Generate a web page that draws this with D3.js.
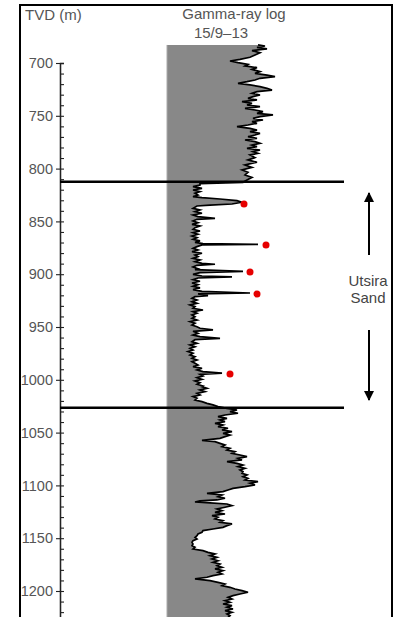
<!DOCTYPE html>
<html>
<head>
  <meta charset="utf-8">
  <script src="https://d3js.org/d3.v7.min.js"></script>
  <style>
    body { margin: 0; background: #fff; }
    text { font-family: "Liberation Sans", Arial, sans-serif; }
  </style>
</head>
<body>
<script>
  var depthM = [
    682.9, 683.9, 685.2, 686.7, 688.3, 690.2, 692.4, 694.6, 696.5, 698.1, 699.7, 701.3, 702.8, 704.4, 706.0, 708.2,
    709.8, 711.4, 712.9, 714.5, 716.1, 717.7, 719.3, 720.8, 722.4, 724.0, 725.6, 727.1, 728.7, 730.3, 731.9, 733.5,
    735.0, 736.6, 738.2, 739.8, 741.3, 742.9, 744.5, 746.1, 747.7, 749.2, 750.8, 752.4, 754.0, 755.6, 757.1, 758.7,
    760.3, 761.9, 763.5, 765.0, 766.6, 768.2, 769.8, 771.3, 772.9, 774.5, 776.1, 777.7, 779.2, 780.8, 782.4, 784.0,
    785.6, 787.1, 789.6, 791.8, 794.0, 796.6, 798.8, 801.3, 803.5, 806.0, 808.3, 810.8, 813.0,
    814.3, 815.5, 817.1, 818.7, 820.3, 821.8, 823.4, 825.0, 826.6, 827.5, 828.8, 830.4, 831.9, 833.5, 834.5, 835.4,
    837.6, 839.2, 840.8, 842.3, 843.9, 845.5, 847.1, 848.0, 849.6, 851.2, 852.8, 854.3, 855.9, 857.5, 859.1, 860.7,
    862.2, 863.8, 865.4, 867.0, 868.5, 869.8, 871.1, 871.7, 872.3, 873.9, 875.5, 877.1, 878.7, 880.2, 881.8, 883.4,
    885.0, 886.5, 888.1, 889.7, 890.6, 891.6, 893.2, 894.8, 895.7,
    897.3, 898.5, 900.1, 901.7, 902.6, 903.6, 905.2, 906.7, 908.3, 909.9, 911.5, 913.0, 914.6, 916.2, 917.8, 918.7,
    920.3, 921.3, 922.8, 924.4, 926.0, 927.6, 929.1, 930.7, 932.3, 933.9, 935.5, 937.0, 938.6, 940.2, 941.8, 943.4,
    944.9, 946.5, 948.1, 949.7, 951.2, 952.8, 954.1, 956.0, 957.6, 959.1, 960.7, 962.0, 963.9, 965.5, 967.0, 968.6,
    970.2, 971.8, 973.3, 974.9, 976.5, 978.1, 979.7, 981.2, 982.8, 984.4, 986.0, 987.6, 989.1, 990.7, 992.3, 993.6,
    994.8, 996.4, 998.0, 999.6, 1001.1, 1002.7, 1004.3, 1005.9,
    1006.5, 1008.1, 1009.6, 1011.2, 1012.8, 1014.4, 1015.9, 1017.5, 1019.1, 1020.7, 1022.3, 1023.8, 1025.4, 1027.0,
    1028.6, 1030.2, 1031.7, 1033.3, 1034.9, 1036.5, 1038.0, 1039.6, 1041.2, 1042.8, 1044.4, 1045.9, 1047.5, 1049.1,
    1050.7, 1052.3, 1053.8, 1055.4, 1057.3, 1058.6, 1060.2, 1061.7, 1063.3, 1064.9, 1066.5, 1068.0, 1069.6, 1071.2,
    1072.8, 1074.4, 1075.9, 1077.5, 1079.1, 1080.7, 1082.2, 1083.8, 1085.4, 1087.0, 1088.6, 1090.1, 1091.7, 1093.3,
    1094.9, 1096.5, 1098.0, 1099.6, 1101.2, 1102.8, 1104.3, 1105.9, 1107.5, 1109.1, 1110.7, 1112.2, 1113.8,
    1114.7, 1115.7, 1116.6, 1117.6, 1119.2, 1120.7, 1122.3, 1123.9, 1125.5, 1127.1, 1128.6, 1130.2, 1131.8, 1133.4,
    1135.0, 1136.5, 1138.1, 1139.7, 1141.3, 1142.8, 1144.4, 1146.0, 1147.6, 1149.2, 1150.7, 1152.3, 1153.9, 1155.5,
    1157.1, 1158.6, 1160.2, 1161.8, 1163.4, 1164.9, 1166.5, 1168.1, 1169.7, 1171.3, 1172.8, 1174.4, 1176.0, 1177.6,
    1179.1, 1180.7, 1182.3, 1183.9, 1185.5, 1187.0, 1188.6, 1190.2, 1191.8, 1193.4, 1194.9, 1196.5, 1198.1, 1199.7,
    1201.2, 1202.8, 1204.4, 1206.0, 1207.6, 1209.1, 1210.7, 1212.3, 1213.9, 1215.4, 1217.0, 1218.6, 1220.2, 1221.8,
    1223.4, 1225.0];
  var gammaApi = [
    91, 98, 90, 100, 85, 93, 88, 83, 73, 63, 71, 81, 78, 90, 85, 93,
    88, 100, 108, 93, 88, 80, 71, 83, 93, 100, 105, 90, 85, 93, 86, 81,
    90, 75, 85, 80, 93, 78, 88, 96, 90, 106, 93, 86, 96, 85, 90, 81,
    70, 83, 90, 83, 93, 88, 81, 90, 78, 88, 93, 85, 90, 80, 93, 86,
    91, 83, 88, 81, 90, 78, 85, 75, 81, 78, 85, 80, 76,
    33, 33, 26, 35, 26, 33, 28, 31, 26, 35, 53, 70, 75, 65, 43, 30,
    26, 33, 28, 35, 26, 31, 48, 30, 26, 31, 25, 33, 28, 26, 33, 26,
    31, 25, 30, 26, 33, 28, 36, 91, 35, 30, 26, 31, 25, 35, 28, 31,
    26, 33, 28, 35, 48, 30, 26, 31, 28,
    76, 33, 26, 35, 65, 31, 26, 33, 25, 31, 26, 33, 26, 35, 83, 31,
    41, 28, 25, 30, 25, 30, 23, 28, 26, 36, 26, 30, 25, 28, 25, 30,
    23, 28, 25, 30, 33, 46, 26, 31, 26, 33, 53, 28, 25, 30, 23, 28,
    23, 26, 21, 26, 23, 28, 25, 30, 25, 28, 31, 26, 35, 30, 36, 55,
    33, 36, 30, 35, 28, 33, 30, 36,
    35, 40, 33, 38, 30, 33, 26, 30, 28, 35, 40, 46, 51, 60,
    70, 63, 71, 58, 51, 60, 53, 58, 48, 56, 51, 61, 55, 65,
    56, 63, 58, 53, 35, 48, 53, 58, 55, 63, 60, 68, 65, 73,
    80, 71, 75, 60, 70, 76, 71, 78, 73, 76, 75, 80, 76, 81,
    78, 91, 83, 88, 78, 66, 61, 56, 40, 55, 51, 58, 50,
    33, 28, 43, 60, 65, 58, 50, 55, 48, 58, 45, 51, 48, 56,
    53, 65, 60, 56, 46, 36, 35, 31, 30, 28, 30, 26, 25, 26,
    25, 28, 26, 36, 41, 48, 43, 50, 45, 51, 46, 53, 50, 55,
    48, 56, 51, 55, 46, 40, 28, 43, 51, 58, 55, 63, 68, 75,
    81, 73, 66, 61, 65, 58, 63, 56, 65, 60, 66, 58, 65, 60,
    63, 61];

  // red sample markers
  var sampleDepth = [833.5, 872.3, 897.9, 918.8, 994.5];
  var sampleGR = [77, 99, 83, 90, 63];

  // top and base of the Utsira Sand
  var topsDepth = [812.5, 1026.5];

  var majorTicks = [700, 750, 800, 850, 900, 950, 1000, 1050, 1100, 1150, 1200];
  var minorTicks = [700, 710, 720, 730, 740, 750, 760, 770, 780, 790, 800, 810, 820, 830, 840, 850, 860, 870, 880, 890,
    900, 910, 920, 930, 940, 950, 960, 970, 980, 990, 1000, 1010, 1020, 1030, 1040, 1050, 1060, 1070, 1080, 1090,
    1100, 1110, 1120, 1130, 1140, 1150, 1160, 1170, 1180, 1190, 1200, 1210, 1220];

  var width = 398, height = 617;

  var y = d3.scaleLinear().domain([700, 1225]).range([63, 617.4]);
  var x = d3.scaleLinear().domain([0, 150]).range([167, 317]);

  var svg = d3.select("body").append("svg")
    .attr("width", width)
    .attr("height", height);

  var log = depthM.map(function(d, i) { return {depth: d, gr: gammaApi[i]}; });

  var area = d3.area()
    .y(function(d) { return y(d.depth); })
    .x0(x(0))
    .x1(function(d) { return x(d.gr); });

  svg.append("path")
    .datum(log)
    .attr("d", area)
    .attr("fill", "#888");

  svg.append("line")
    .attr("x1", x(0)).attr("x2", x(0))
    .attr("y1", y(depthM[0])).attr("y2", height)
    .attr("stroke", "#aaa").attr("stroke-width", 1);

  var line = d3.line()
    .y(function(d) { return y(d.depth); })
    .x(function(d) { return x(d.gr); });

  svg.append("path")
    .datum(log)
    .attr("d", line)
    .attr("fill", "none")
    .attr("stroke", "#000")
    .attr("stroke-width", 1.7);

  // depth axis
  var axisG = svg.append("g").attr("transform", "translate(60,0)");
  axisG.call(d3.axisLeft(y).tickValues(majorTicks).tickFormat(d3.format("d"))
    .tickSizeInner(4).tickSizeOuter(0).tickPadding(3));
  axisG.append("g").call(d3.axisRight(y).tickValues(minorTicks).tickSize(4).tickFormat(""));
  axisG.selectAll("path.domain").attr("stroke", "#222").attr("stroke-width", 1.3);
  axisG.selectAll(".tick line").attr("stroke", "#222").attr("stroke-width", 1.1);
  axisG.selectAll(".tick text")
    .attr("fill", "#555")
    .style("font-size", "14.5px")
    .style("font-family", "Liberation Sans, Arial, sans-serif");

  // formation tops
  svg.selectAll(".top")
    .data(topsDepth)
    .enter().append("line")
    .attr("class", "top")
    .attr("x1", 60).attr("x2", 344)
    .attr("y1", function(d) { return y(d); })
    .attr("y2", function(d) { return y(d); })
    .attr("stroke", "#000")
    .attr("stroke-width", 2.5);

  // sample points
  svg.selectAll(".sample")
    .data(sampleDepth)
    .enter().append("circle")
    .attr("class", "sample")
    .attr("cx", function(d, i) { return x(sampleGR[i]); })
    .attr("cy", function(d) { return y(d); })
    .attr("r", 3.5)
    .attr("fill", "#e60000");

  // Utsira Sand arrows
  svg.append("defs").append("marker")
    .attr("id", "head")
    .attr("viewBox", "0 0 10 10")
    .attr("refX", 9).attr("refY", 5)
    .attr("markerWidth", 5).attr("markerHeight", 5)
    .attr("orient", "auto")
    .append("path")
    .attr("d", "M0,0L10,5L0,10Z")
    .attr("fill", "#000");

  svg.append("line")
    .attr("x1", 369).attr("x2", 369)
    .attr("y1", y(881.8)).attr("y2", y(823.1))
    .attr("stroke", "#000").attr("stroke-width", 2)
    .attr("marker-end", "url(#head)");
  svg.append("line")
    .attr("x1", 369).attr("x2", 369)
    .attr("y1", y(952.8)).attr("y2", y(1019.1))
    .attr("stroke", "#000").attr("stroke-width", 2)
    .attr("marker-end", "url(#head)");

  svg.append("text")
    .attr("x", 368).attr("y", y(911.6))
    .attr("text-anchor", "middle")
    .attr("fill", "#444")
    .style("font-size", "15px")
    .text("Utsira");
  svg.append("text")
    .attr("x", 368).attr("y", y(927.7))
    .attr("text-anchor", "middle")
    .attr("fill", "#444")
    .style("font-size", "15px")
    .text("Sand");

  // titles
  svg.append("text")
    .attr("x", 25).attr("y", 20)
    .attr("fill", "#555")
    .style("font-size", "15px")
    .text("TVD (m)");
  svg.append("text")
    .attr("x", 234).attr("y", 19)
    .attr("text-anchor", "middle")
    .attr("fill", "#555")
    .style("font-size", "15px")
    .text("Gamma-ray log");
  svg.append("text")
    .attr("x", 221).attr("y", 38)
    .attr("text-anchor", "middle")
    .attr("fill", "#555")
    .style("font-size", "15px")
    .text("15/9\u201313");

  // frame
  svg.append("path")
    .attr("d", "M20," + (height + 5) + "V5H392V" + (height + 5))
    .attr("fill", "none")
    .attr("stroke", "#000")
    .attr("stroke-width", 2);
</script>
</body>
</html>
